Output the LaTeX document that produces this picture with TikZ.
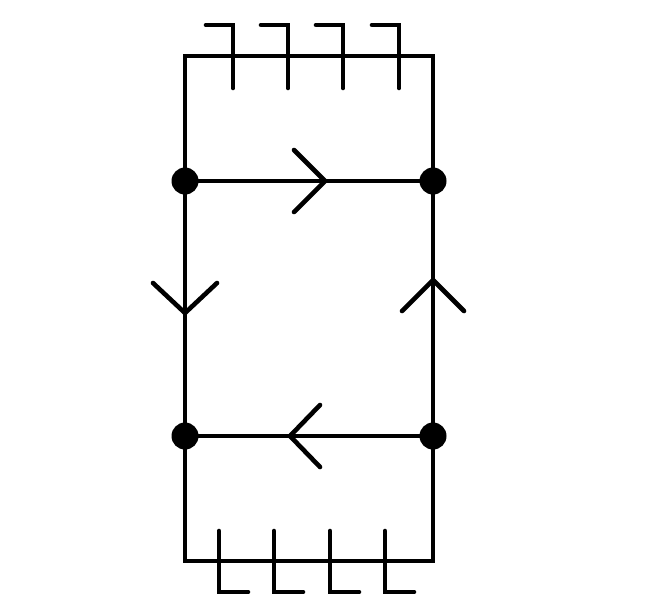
\documentclass[tikz,border=0pt]{standalone}
\begin{document}
\begin{tikzpicture}[x=1pt,y=-1pt,
  wire/.style={line width=4.6pt,line join=miter},
  tick/.style={line width=4.6pt,line cap=round,line join=miter},
  dot/.style={circle,fill=black,inner sep=0pt,minimum size=27pt}]
\useasboundingbox (0,0) rectangle (655,614);
% corners
\coordinate (TL) at (185,56);
\coordinate (TR) at (433,56);
\coordinate (BL) at (185,561);
\coordinate (BR) at (433,561);
% vertices
\node[dot] (A) at (185,181) {};
\node[dot] (B) at (433,181) {};
\node[dot] (C) at (185,436) {};
\node[dot] (D) at (433,436) {};
% outer frame
\draw[wire] (A.center) -- (TL) -- (TR) -- (B.center);
\draw[wire] (C.center) -- (BL) -- (BR) -- (D.center);
% inner square
\draw[wire] (A.center) -- (B.center) -- (D.center) -- (C.center) -- cycle;
% top comb
\foreach \x in {233,288,343,399}
  \draw[tick] (\x-27,25) -- (\x,25) -- (\x,88);
% bottom comb
\foreach \x in {219,274,330,385}
  \draw[tick] (\x,531) -- (\x,592) -- (\x+29,592);
% chevron arrows
\draw[tick] (294,150) -- (325,181) -- (294,212);
\draw[tick] (153,283) -- (185,313) -- (217,283);
\draw[tick] (402,311) -- (433,280) -- (464,311);
\draw[tick] (320,405) -- (290,436) -- (320,467);
\end{tikzpicture}
\end{document}
